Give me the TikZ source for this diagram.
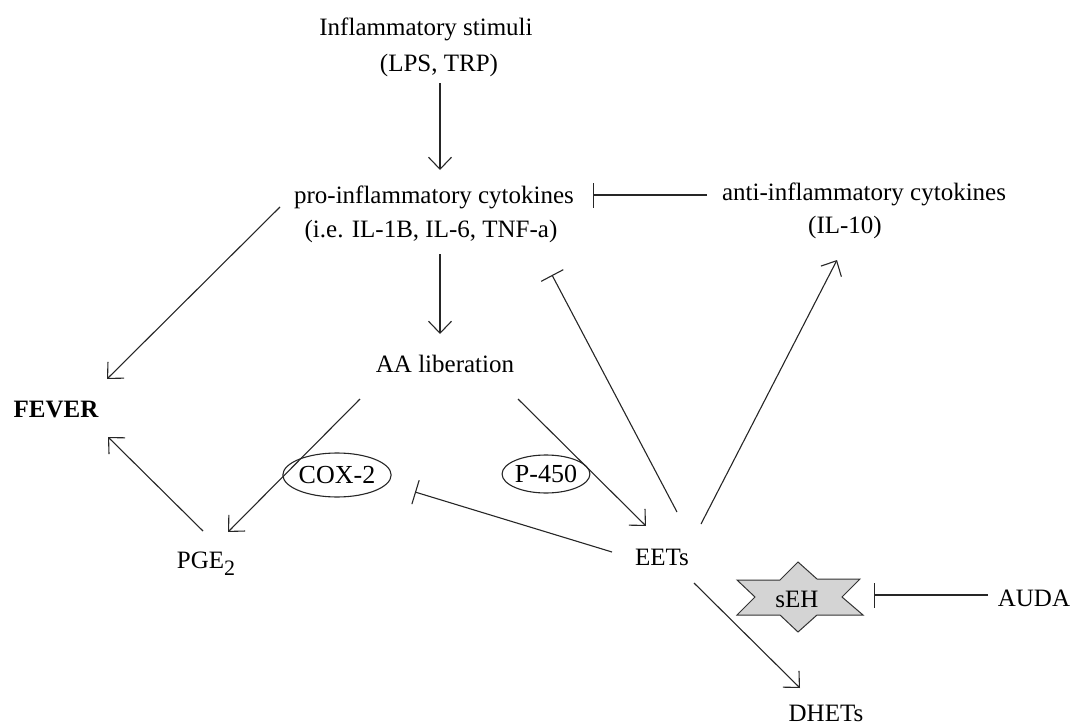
\documentclass[tikz,border=0pt]{standalone}
\usepackage{fontspec}
\setmainfont{Liberation Serif}
\usetikzlibrary{arrows.meta,shapes.geometric}
\begin{document}
\begin{tikzpicture}[x=1pt,y=-1pt,
  lbl/.style={font=\fontsize{25}{30}\selectfont, inner sep=0pt, anchor=base, text=black},
  enz/.style={draw=black!85, line width=1.1pt, ellipse, inner sep=0pt, text=black,
              font=\fontsize{26}{30}\selectfont},
  act/.style={draw=black!85, line width=1.1pt,
              -{Straight Barb[length=12pt,width=23pt,line width=1.1pt]}},
  inh/.style={draw=black!85, line width=1.1pt, -{Bar[width=25pt,line width=1.1pt]}},
  star/.style={draw=black!80, fill=black!17, line width=1pt}
]
\useasboundingbox (0,0) rectangle (1072,728);

% text nodes
\node[lbl] (stim)  at (426,35)  {Inflammatory stimuli};
\node[lbl] (lps)   at (439,71)  {(LPS, TRP)};
\node[lbl] (pro)   at (434,203) {pro-inflammatory cytokines};
\node[lbl] (pro2)  at (431,237) {(i.e. IL-1B, IL-6, TNF-a)};
\node[lbl] (anti)  at (864,200) {anti-inflammatory cytokines};
\node[lbl] (anti2) at (845,233) {(IL-10)};
\node[lbl] (aa)    at (445,372) {AA liberation};
\node[lbl, font=\fontsize{25}{30}\selectfont\bfseries] (fever) at (56,417) {FEVER};
\node[lbl] (pge)   at (206,568) {PGE\raisebox{-7pt}{\fontsize{22}{22}\selectfont 2}};
\node[lbl] (eets)  at (662,565) {EETs};
\node[lbl] (dhets) at (826,721) {DHETs};
\node[lbl] (auda)  at (1034,606) {AUDA};

% enzyme ellipses
\node[enz, minimum width=94pt, minimum height=44pt] (cox)  at (337,475) {COX-2};
\node[enz, minimum width=86pt, minimum height=38pt] (p450) at (546,474) {P-450};

% sEH star
\draw[star] (798,562) -- (817,579) -- (860,579) -- (842,597) -- (863,615) -- (817,615)
  -- (798,632) -- (780,615) -- (737,615) -- (755,597) -- (737,580) -- (780,580) -- cycle;
\node[lbl] (seh) at (797,607) {sEH};

% connector end points
\coordinate (lps-o)   at (440,83);
\coordinate (pro-i)   at (440,170);
\coordinate (anti-o)  at (707,195);
\coordinate (pro-r)   at (593,195);
\coordinate (pro-fo)  at (280,207);
\coordinate (fever-a) at (107,379);
\coordinate (pro-o)   at (440,254);
\coordinate (aa-i)    at (440,334);
\coordinate (aa-l)    at (360,399);
\coordinate (pge-i)   at (228,532);
\coordinate (aa-r)    at (518,399);
\coordinate (eets-i)  at (646,526);
\coordinate (pge-o)   at (203,531);
\coordinate (fever-b) at (108,437);
\coordinate (eets-l)  at (612,552);
\coordinate (cox-r)   at (415,492);
\coordinate (eets-u)  at (677,512);
\coordinate (pro-b)   at (552,275);
\coordinate (eets-v)  at (701,524);
\coordinate (anti-i)  at (837,260);
\coordinate (eets-d)  at (694,583);
\coordinate (dhets-i) at (800,688);
\coordinate (auda-o)  at (988,595);
\coordinate (seh-r)   at (874,595);

% connectors
\draw[act] (lps-o) -- (pro-i);
\draw[inh] (anti-o) -- (pro-r);
\draw[act] (pro-fo) -- (fever-a);
\draw[act] (pro-o) -- (aa-i);
\draw[act] (aa-l) -- (pge-i);
\draw[act] (aa-r) -- (eets-i);
\draw[act] (pge-o) -- (fever-b);
\draw[inh] (eets-l) -- (cox-r);
\draw[inh] (eets-u) -- (pro-b);
\draw[act] (eets-v) -- (anti-i);
\draw[act] (eets-d) -- (dhets-i);
\draw[inh] (auda-o) -- (seh-r);
\end{tikzpicture}
\end{document}
